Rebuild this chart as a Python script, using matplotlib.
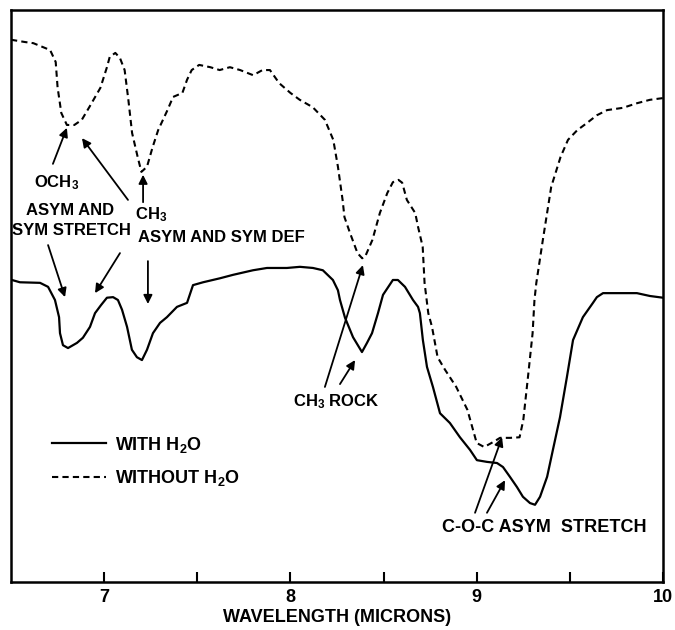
import matplotlib
matplotlib.use("Agg")
import matplotlib.pyplot as plt

FONT = ["Liberation Sans", "DejaVu Sans"]
plt.rcParams["font.family"] = FONT
plt.rcParams["font.weight"] = "bold"
plt.rcParams["mathtext.fontset"] = "custom"
plt.rcParams["mathtext.bf"] = "Liberation Sans:bold"
plt.rcParams["mathtext.rm"] = "Liberation Sans:bold"
plt.rcParams["mathtext.default"] = "bf"

# ---- data: without H2O (dashed) ----
wl_dry = [6.50, 6.575, 6.62, 6.71, 6.74, 6.75, 6.77, 6.80, 6.84, 6.88, 6.92, 6.98,
          7.015, 7.03, 7.06, 7.085, 7.11, 7.13, 7.15, 7.18, 7.20, 7.23, 7.26, 7.29,
          7.34, 7.37, 7.42, 7.445, 7.47, 7.51, 7.57, 7.62, 7.675, 7.73, 7.80, 7.85,
          7.89, 7.94, 8.00, 8.05, 8.12, 8.185, 8.23, 8.255, 8.28, 8.29, 8.32, 8.36,
          8.385, 8.40, 8.44, 8.48, 8.52, 8.55, 8.58, 8.60, 8.625, 8.67, 8.685, 8.71,
          8.72, 8.74, 8.76, 8.79, 8.83, 8.89, 8.95, 9.00, 9.04, 9.09, 9.125, 9.18,
          9.23, 9.25, 9.275, 9.30, 9.31, 9.32, 9.355, 9.40, 9.45, 9.49, 9.54, 9.59,
          9.645, 9.70, 9.785, 9.86, 9.93, 10.00]
tr_dry = [94.8, 94.4, 94.2, 93.0, 90.9, 86.5, 82.0, 79.9, 79.9, 80.8, 83.0, 86.4,
          90.0, 91.8, 92.5, 91.6, 89.5, 84.3, 78.5, 74.3, 71.7, 72.6, 76.0, 79.0,
          82.5, 84.8, 85.5, 87.8, 89.5, 90.4, 90.0, 89.5, 90.0, 89.5, 88.6, 89.5,
          89.5, 87.2, 85.5, 84.3, 83.0, 80.8, 77.3, 72.6, 66.8, 63.8, 61.0, 57.5,
          56.6, 56.8, 59.8, 64.5, 68.0, 69.9, 70.3, 69.8, 66.8, 64.5, 62.1, 58.6,
          52.3, 47.0, 44.6, 39.3, 37.1, 34.1, 30.1, 24.3, 23.6, 24.5, 25.2, 25.2,
          25.3, 28.3, 35.8, 43.5, 49.3, 52.3, 59.8, 69.1, 74.3, 77.3, 79.0, 80.2,
          81.6, 82.5, 82.9, 83.7, 84.3, 84.6]

# ---- data: with H2O (solid) ----
wl_wet = [6.505, 6.548, 6.656, 6.699, 6.736, 6.758, 6.763, 6.779, 6.806, 6.854, 6.886,
          6.924, 6.951, 6.983, 7.015, 7.048, 7.074, 7.096, 7.123, 7.149, 7.176, 7.203,
          7.230, 7.262, 7.300, 7.337, 7.391, 7.445, 7.477, 7.531, 7.622, 7.692, 7.799,
          7.874, 7.981, 8.051, 8.121, 8.174, 8.228, 8.255, 8.266, 8.293, 8.336, 8.384,
          8.411, 8.438, 8.470, 8.497, 8.550, 8.577, 8.615, 8.658, 8.685, 8.695, 8.711,
          8.733, 8.765, 8.803, 8.856, 8.910, 8.964, 9.001, 9.055, 9.109, 9.141, 9.178,
          9.216, 9.248, 9.286, 9.313, 9.340, 9.378, 9.409, 9.447, 9.484, 9.517, 9.570,
          9.624, 9.645, 9.678, 9.769, 9.860, 9.930, 10.0]
tr_wet = [52.8, 52.4, 52.3, 51.6, 49.3, 46.3, 43.5, 41.4, 40.9, 41.8, 42.7,
          44.6, 47.0, 48.4, 49.7, 49.8, 49.3, 47.6, 44.6, 40.6, 39.3, 38.8,
          40.6, 43.5, 45.3, 46.3, 48.1, 48.8, 51.9, 52.4, 53.1, 53.7, 54.5,
          54.9, 54.9, 55.1, 54.9, 54.5, 52.8, 51.0, 49.3, 46.2, 42.8, 40.2,
          41.8, 43.5, 47.0, 50.2, 52.8, 52.8, 51.6, 49.3, 48.1, 47.0, 42.3,
          37.6, 34.1, 29.5, 27.8, 25.3, 23.1, 21.3, 21.0, 20.8, 20.1, 18.4,
          16.6, 14.9, 13.8, 13.5, 14.9, 18.4, 23.1, 28.8, 35.8, 42.3, 46.3,
          48.8, 49.8, 50.5, 50.5, 50.5, 50.0, 49.7]

major_ticks = [7, 8, 9, 10]
minor_ticks = [7.5, 8.5, 9.5]
tick_labels = ["7", "8", "9", "10"]

fig = plt.figure(figsize=(6.75, 6.3), dpi=100)
ax = fig.add_axes([11 / 675, 48 / 630, 652 / 675, 572 / 630])

ax.plot(wl_wet, tr_wet, color="black", lw=1.6, solid_joinstyle="round",
        label="WITH H$_2$O")
ax.plot(wl_dry, tr_dry, color="black", lw=1.5, dashes=(3, 2),
        label="WITHOUT H$_2$O")

ax.set_xlim(6.5, 10)
ax.set_ylim(0, 100)
ax.set_yticks([])
ax.set_xticks(major_ticks)
ax.set_xticklabels(tick_labels)
ax.set_xticks(minor_ticks, minor=True)
ax.tick_params(axis="x", which="both", direction="in", length=7, width=1.5,
               labelsize=13, pad=5)
for lab in ax.get_xticklabels():
    lab.set_fontweight("bold")
for s in ax.spines.values():
    s.set_linewidth(1.8)

ax.set_xlabel("WAVELENGTH (MICRONS)", fontsize=13, fontweight="bold", labelpad=2)

tfs = 12
ap = dict(arrowstyle="-|>", lw=1.3, color="black", mutation_scale=13,
          shrinkA=0, shrinkB=0)

def arrow(tail, tip):
    ax.annotate("", xy=tip, xytext=tail, xycoords="data", textcoords="data",
                arrowprops=ap)

ax.text(6.747, 69.9, "OCH$_3$", fontsize=tfs, ha="center", va="center")
ax.text(6.817, 65.0, "ASYM AND", fontsize=tfs, ha="center", va="center")
ax.text(6.827, 61.4, "SYM STRETCH", fontsize=tfs, ha="center", va="center")
arrow((6.725, 73.1), (6.80, 79.4))
arrow((6.699, 58.9), (6.790, 49.8))
arrow((7.085, 57.5), (6.951, 50.5))

ax.text(7.166, 64.2, "CH$_3$", fontsize=tfs, ha="left", va="center")
ax.text(7.182, 60.3, "ASYM AND SYM DEF", fontsize=tfs, ha="left", va="center")
arrow((7.128, 66.8), (6.881, 77.6))
arrow((7.209, 66.4), (7.209, 71.2))
arrow((7.235, 56.1), (7.235, 48.6))

ax.text(8.014, 31.5, "CH$_3$ ROCK", fontsize=tfs, ha="left", va="center")
arrow((8.185, 34.1), (8.389, 55.4))
arrow((8.266, 34.6), (8.347, 38.8))

ax.text(8.813, 9.6, "C-O-C ASYM  STRETCH", fontsize=13, ha="left", va="center")
arrow((8.991, 12.1), (9.136, 25.3))
arrow((9.055, 12.1), (9.152, 17.8))

leg = ax.legend(loc="upper left", bbox_to_anchor=(0.063, 0.2575), frameon=False,
                fontsize=13, handlelength=3.0, handletextpad=0.5,
                labelspacing=0.75, borderpad=0, borderaxespad=0)

fig.savefig("out.png", dpi=100)
